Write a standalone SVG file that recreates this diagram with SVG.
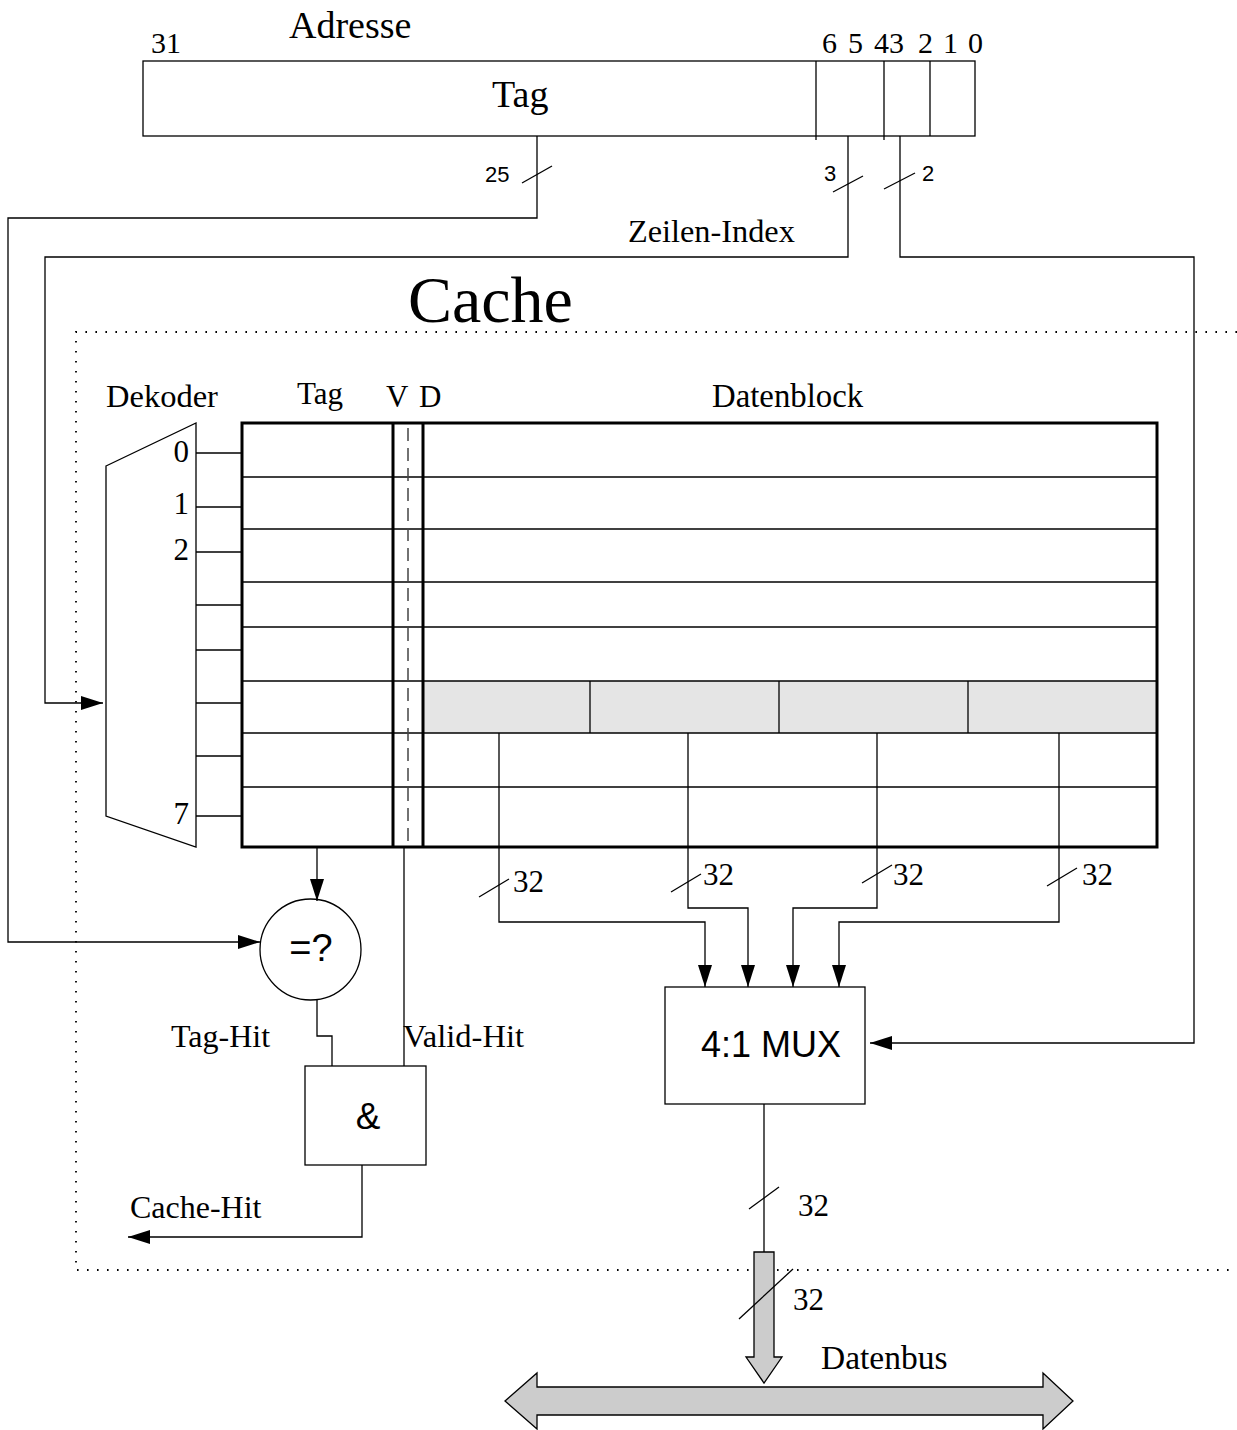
<svg xmlns="http://www.w3.org/2000/svg" width="1237" height="1430" viewBox="0 0 1237 1430">
<style>
.ln{stroke:#000;stroke-width:1.3;fill:none}
.bx{stroke:#000;stroke-width:1.3;fill:#fff}
.thk{stroke:#000;stroke-width:3;fill:none}
.dot{stroke:#000;stroke-width:1.8;stroke-dasharray:1.6 8.4;fill:none}
.dash{stroke:#444;stroke-width:1.5;stroke-dasharray:13 7;fill:none}
.se{font-family:"Liberation Serif",serif;fill:#000}
.sa{font-family:"Liberation Sans",sans-serif;fill:#000}
.gray{fill:#cccccc;stroke:#000;stroke-width:1.3}
</style>
<defs>
<marker id="ah" markerUnits="userSpaceOnUse" viewBox="0 0 22 14" markerWidth="22" markerHeight="14" refX="22" refY="7" orient="auto">
<path d="M0,0 L22,7 L0,14 z" fill="#000"/>
</marker>
</defs>
<rect width="1237" height="1430" fill="#fff"/>

<g id="cache-boundary">
<path class="dot" d="M1237,332 H76 V1270 H1237"/>
<text class="se" x="408" y="322" font-size="66">Cache</text>
</g>

<g id="address">
<rect class="bx" x="143" y="61" width="832" height="75"/>
<line class="ln" x1="816" y1="61" x2="816" y2="140"/>
<line class="ln" x1="884" y1="61" x2="884" y2="140"/>
<line class="ln" x1="930" y1="61" x2="930" y2="136"/>
<text class="se" x="289" y="38" font-size="38">Adresse</text>
<text class="se" x="492" y="107" font-size="38">Tag</text>
<text class="se" x="151" y="53" font-size="30">31</text>
<text class="se" x="822" y="53" font-size="30">6</text>
<text class="se" x="848" y="53" font-size="30">5</text>
<text class="se" x="874" y="53" font-size="30">43</text>
<text class="se" x="918" y="53" font-size="30">2</text>
<text class="se" x="943" y="53" font-size="30">1</text>
<text class="se" x="968" y="53" font-size="30">0</text>
</g>

<g id="decoder">
<polygon class="bx" points="106,466 196,423 196,847 106,816"/>
<line class="ln" x1="196" y1="453" x2="242" y2="453"/>
<line class="ln" x1="196" y1="507" x2="242" y2="507"/>
<line class="ln" x1="196" y1="552" x2="242" y2="552"/>
<line class="ln" x1="196" y1="605" x2="242" y2="605"/>
<line class="ln" x1="196" y1="650" x2="242" y2="650"/>
<line class="ln" x1="196" y1="703" x2="242" y2="703"/>
<line class="ln" x1="196" y1="756" x2="242" y2="756"/>
<line class="ln" x1="196" y1="816" x2="242" y2="816"/>
<text class="se" x="106" y="407" font-size="32.5">Dekoder</text>
<text class="se" x="189" y="462" font-size="31" text-anchor="end">0</text>
<text class="se" x="189" y="514" font-size="31" text-anchor="end">1</text>
<text class="se" x="189" y="560" font-size="31" text-anchor="end">2</text>
<text class="se" x="189" y="824" font-size="31" text-anchor="end">7</text>
</g>

<g id="cache-table">
<rect x="423" y="681" width="734" height="52" fill="#e5e5e5"/>
<g class="ln">
<line x1="242" y1="477" x2="1157" y2="477"/>
<line x1="242" y1="529" x2="1157" y2="529"/>
<line x1="242" y1="582" x2="1157" y2="582"/>
<line x1="242" y1="627" x2="1157" y2="627"/>
<line x1="242" y1="681" x2="1157" y2="681"/>
<line x1="242" y1="733" x2="1157" y2="733"/>
<line x1="242" y1="787" x2="1157" y2="787"/>
<line x1="590" y1="681" x2="590" y2="733"/>
<line x1="779" y1="681" x2="779" y2="733"/>
<line x1="968" y1="681" x2="968" y2="733"/>
</g>
<line class="dash" x1="408" y1="428" x2="408" y2="845"/>
<line class="thk" x1="393" y1="423" x2="393" y2="847"/>
<line class="thk" x1="423" y1="423" x2="423" y2="847"/>
<rect class="thk" x="242" y="423" width="915" height="424"/>
<text class="se" x="297" y="404" font-size="31">Tag</text>
<text class="se" x="386" y="407" font-size="31">V</text>
<text class="se" x="419" y="407" font-size="31">D</text>
<text class="se" x="712" y="407" font-size="32.8">Datenblock</text>
</g>

<g id="compare">
<circle class="bx" cx="310.5" cy="949.5" r="50.5"/>
<text class="sa" x="311" y="961" font-size="38" text-anchor="middle">=?</text>
</g>

<g id="and-gate">
<rect class="bx" x="305" y="1066" width="121" height="99"/>
<text class="sa" x="368" y="1129" font-size="37" text-anchor="middle">&amp;</text>
</g>

<g id="mux">
<rect class="bx" x="665" y="987" width="200" height="117"/>
<text class="sa" x="771" y="1057" font-size="36" text-anchor="middle">4:1 MUX</text>
</g>

<g id="connectors">
<path class="ln" d="M537,136 V218 H8 V942 H260" marker-end="url(#ah)"/>
<path class="ln" d="M848,136 V257 H45 V703 H103" marker-end="url(#ah)"/>
<path class="ln" d="M900,136 V257 H1194 V1043 H870" marker-end="url(#ah)"/>
<path class="ln" d="M317,847 V901" marker-end="url(#ah)"/>
<path class="ln" d="M404,847 V1066"/>
<path class="ln" d="M317,999 V1036 H332 V1066"/>
<path class="ln" d="M362,1165 V1237 H128" marker-end="url(#ah)"/>
<path class="ln" d="M499,733 V922 H705 V987" marker-end="url(#ah)"/>
<path class="ln" d="M688,733 V908 H748 V987" marker-end="url(#ah)"/>
<path class="ln" d="M877,733 V908 H793 V987" marker-end="url(#ah)"/>
<path class="ln" d="M1059,733 V922 H839 V987" marker-end="url(#ah)"/>
<path class="ln" d="M764,1104 V1252"/>
<path class="gray" d="M754,1252 H774 V1357 H782 L764,1383 L746,1357 H754 Z"/>
<path class="gray" d="M505,1401 L537,1373 V1387 H1043 V1373 L1073,1401 L1043,1429 V1415 H537 V1429 Z"/>
<g class="ln">
<line x1="522" y1="183" x2="552" y2="166"/>
<line x1="833" y1="192" x2="863" y2="176"/>
<line x1="884" y1="189" x2="915" y2="173"/>
<line x1="479" y1="897" x2="509" y2="879"/>
<line x1="671" y1="892" x2="701" y2="874"/>
<line x1="862" y1="883" x2="892" y2="865"/>
<line x1="1047" y1="886" x2="1077" y2="868"/>
<line x1="749" y1="1209" x2="779" y2="1187"/>
<line x1="739" y1="1319" x2="793" y2="1269"/>
</g>
<text class="sa" x="485" y="182" font-size="22">25</text>
<text class="sa" x="824" y="181" font-size="22">3</text>
<text class="sa" x="922" y="181" font-size="22">2</text>
<text class="se" x="628" y="242" font-size="32.3">Zeilen-Index</text>
<text class="se" x="513" y="892" font-size="31">32</text>
<text class="se" x="703" y="885" font-size="31">32</text>
<text class="se" x="893" y="885" font-size="31">32</text>
<text class="se" x="1082" y="885" font-size="31">32</text>
<text class="se" x="798" y="1216" font-size="31">32</text>
<text class="se" x="793" y="1310" font-size="31">32</text>
<text class="se" x="821" y="1369" font-size="33.5">Datenbus</text>
<text class="se" x="171" y="1047" font-size="32">Tag-Hit</text>
<text class="se" x="403" y="1047" font-size="32.5">Valid-Hit</text>
<text class="se" x="130" y="1218" font-size="32">Cache-Hit</text>
</g>
</svg>
